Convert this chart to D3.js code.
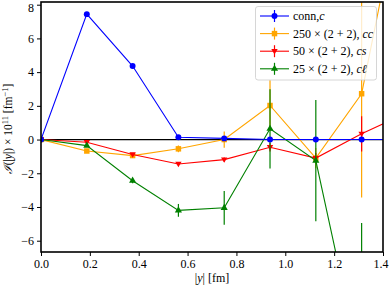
<!DOCTYPE html>
<html><head><meta charset="utf-8">
<script src="https://cdn.jsdelivr.net/npm/d3@7"></script>
<style>
body{margin:0;background:#fff;}
</style></head>
<body><svg id="c" width="390" height="287"></svg>
<script>
const xs = [0, 0.1875, 0.375, 0.5625, 0.75, 0.9375, 1.125, 1.3125, 1.5];
const connY = [0, 7.44, 4.36, 0.14, 0.07, 0, 0, 0, 0];
const connE = [0, 0.05, 0.05, 0.05, 0.05, 0.03, 0.03, 0.03, 0.03];
const ccY = [0, -0.68, -0.95, -0.55, 0.0, 2.02, -1.1, 2.72, 16.2];
const ccE = [0, 0.1, 0.1, 0.2, 0.48, 1.5, 0.6, 6.15, 8];
const csY = [0, -0.16, -0.89, -1.45, -1.19, -0.46, -1.1, 0.34, 1.6];
const csE = [0, 0.05, 0.1, 0.1, 0.12, 0.25, 0.3, 1.05, 1.5];
const clY = [0, -0.36, -2.44, -4.2, -4.05, 0.64, -1.25, -13.75];
const clE = [0, 0.08, 0.15, 0.38, 1.0, 2.35, 3.6, 8.8];
const xTicks = [0.0, 0.2, 0.4, 0.6, 0.8, 1.0, 1.2, 1.4];
const yTicks = [-6, -4, -2, 0, 2, 4, 6, 8];

const FONT = "Liberation Serif";
const svg = d3.select("#c");
const L = 41, R = 383, T = 2, B = 252;
const x = d3.scaleLinear().domain([0, 1.4]).range([L, R]);
const y = d3.scaleLinear().domain([-6.67, 8.16]).range([B, T]);

svg.append("clipPath").attr("id","clip").append("rect")
  .attr("x",L).attr("y",T).attr("width",R-L).attr("height",B-T);
const plot = svg.append("g").attr("clip-path","url(#clip)");

plot.append("line").attr("x1",L).attr("x2",R).attr("y1",y(0)).attr("y2",y(0))
  .attr("stroke","#000").attr("stroke-width",1.2);

const series = [
  {name:"cc", ys:ccY, es:ccE, color:"orange", marker:"square"},
  {name:"cs", ys:csY, es:csE, color:"red", marker:"tridown"},
  {name:"cl", ys:clY, es:clE, color:"green", marker:"triup"},
  {name:"conn", ys:connY, es:connE, color:"blue", marker:"circle"},
];
function markerPath(m){
  if(m==="circle") return d3.symbol(d3.symbolCircle, 28)();
  if(m==="square") return d3.symbol(d3.symbolSquare, 30)();
  if(m==="triup") return d3.symbol(d3.symbolTriangle, 22)();
  if(m==="tridown") return "M0,3.2L-3.2,-2.2L3.2,-2.2Z";
}
const line = d3.line().x(d=>x(d[0])).y(d=>y(d[1]));
series.forEach(s=>{
  const pts = s.ys.map((v,i)=>[xs[i], v, s.es[i]]);
  const g = plot.append("g");
  g.selectAll("line.err").data(pts).join("line")
    .attr("x1",d=>x(d[0])).attr("x2",d=>x(d[0]))
    .attr("y1",d=>y(d[1]-d[2])).attr("y2",d=>y(d[1]+d[2]))
    .attr("stroke",s.color).attr("stroke-width",1.2);
  g.append("path").attr("d",line(pts)).attr("fill","none")
    .attr("stroke",s.color).attr("stroke-width",1.1);
  g.selectAll("path.m").data(pts).join("path")
    .attr("transform",d=>`translate(${x(d[0])},${y(d[1])})`)
    .attr("d",markerPath(s.marker)).attr("fill",s.color);
});

const xa = svg.append("g").attr("transform",`translate(0,${B})`)
  .call(d3.axisBottom(x).tickValues(xTicks).tickFormat(d3.format(".1f")).tickSize(4).tickPadding(3));
const ya = svg.append("g").attr("transform",`translate(${L},0)`)
  .call(d3.axisLeft(y).tickValues(yTicks).tickFormat(d=>d<0?"\u2212"+Math.abs(d):d).tickSize(4).tickPadding(3));
[xa,ya].forEach(a=>{
  a.attr("font-family",FONT).attr("font-size",12);
  a.select(".domain").remove();
  a.selectAll("text").attr("fill","#000");
  a.selectAll("line").attr("stroke","#000").attr("stroke-width",1);
});
ya.selectAll(".tick").filter(d=>d===8).select("text").attr("dy","0.55em");
xa.selectAll(".tick").filter(d=>d===1.4).select("text").attr("dx","-0.2em");
svg.append("rect").attr("x",L).attr("y",T).attr("width",R-L).attr("height",B-T)
  .attr("fill","none").attr("stroke","#000").attr("stroke-width",1.6);

const xl = svg.append("text").attr("x",(L+R)/2).attr("y",282).attr("text-anchor","middle")
  .attr("font-size",12).attr("font-family",FONT);
xl.append("tspan").text("|");
xl.append("tspan").attr("font-style","italic").text("y");
xl.append("tspan").text("|  [fm]");

const yl = svg.append("text").attr("transform",`translate(12,129) rotate(-90)`)
  .attr("text-anchor","middle").attr("font-size",11.5).attr("font-family",FONT);
yl.append("tspan").attr("font-style","italic").text("\u2110");
yl.append("tspan").text("(|");
yl.append("tspan").attr("font-style","italic").text("y");
yl.append("tspan").text("|) \u00d7 10");
yl.append("tspan").attr("font-size",8.5).attr("dy",-4).text("11");
yl.append("tspan").attr("dy",4).text(" [fm");
yl.append("tspan").attr("font-size",8.5).attr("dy",-4).text("\u22121");
yl.append("tspan").attr("dy",4).text("]");

const leg = svg.append("g");
leg.append("rect").attr("x",255.5).attr("y",6.5).attr("width",121).attr("height",73.5)
  .attr("rx",2.5).attr("fill","#fff").attr("fill-opacity",0.8).attr("stroke","#ccc").attr("stroke-width",0.8);
const legItems = [
  {s:series[3], parts:[["conn,",""],["c","italic"]]},
  {s:series[0], parts:[["250 \u00d7 (2 + 2), ",""],["cc","italic"]]},
  {s:series[1], parts:[["50 \u00d7 (2 + 2), ",""],["cs","italic"]]},
  {s:series[2], parts:[["25 \u00d7 (2 + 2), ",""],["c\u2113","italic"]]},
];
legItems.forEach((it,i)=>{
  const yy = 16 + i*17.6;
  const g = leg.append("g");
  g.append("line").attr("x1",260).attr("x2",289).attr("y1",yy).attr("y2",yy).attr("stroke",it.s.color).attr("stroke-width",1.1);
  g.append("line").attr("x1",274.5).attr("x2",274.5).attr("y1",yy-6).attr("y2",yy+6).attr("stroke",it.s.color).attr("stroke-width",1.2);
  g.append("path").attr("transform",`translate(274.5,${yy})`).attr("d",markerPath(it.s.marker)).attr("fill",it.s.color);
  const t = g.append("text").attr("x",293).attr("y",yy+4).attr("font-size",12).attr("font-family",FONT);
  it.parts.forEach(p=>t.append("tspan").attr("font-style",p[1]||null).text(p[0]));
});
</script></body></html>
